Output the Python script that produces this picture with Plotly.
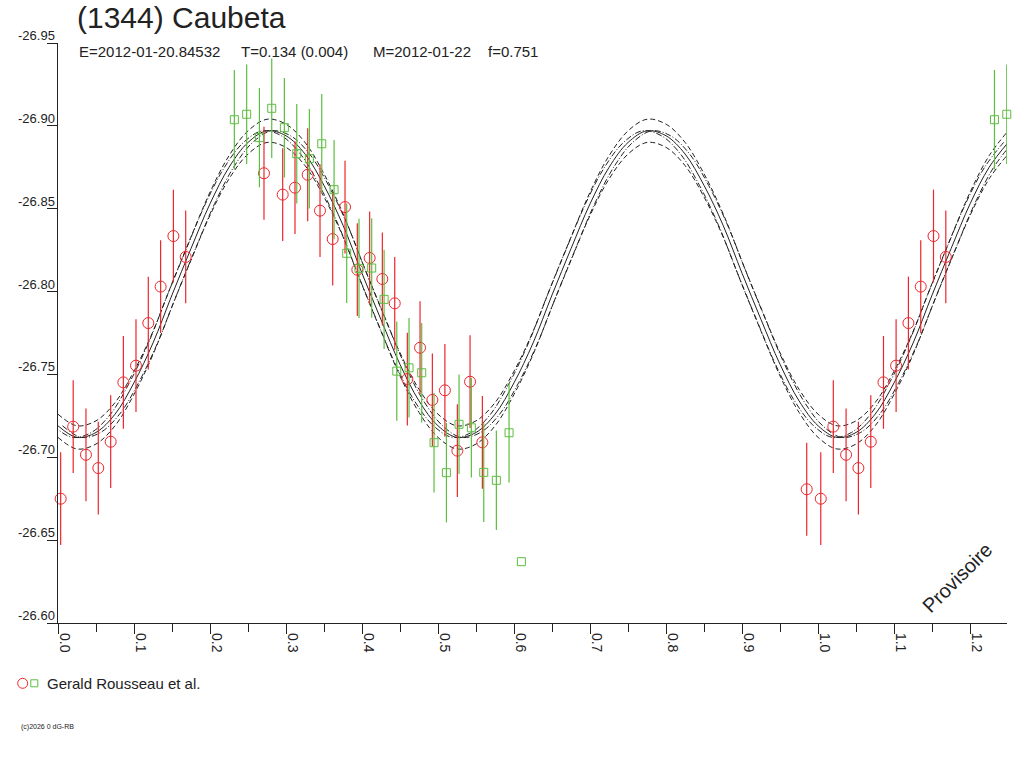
import plotly.graph_objects as go

# ---------------- data ----------------
TITLE = "(1344) Caubeta"
SUBTITLE_PARTS = ["E=2012-01-20.84532", "T=0.134 (0.004)", "M=2012-01-22", "f=0.751"]
LEGEND_LABEL = "Gerald Rousseau et al."
WATERMARK = "Provisoire"
COPYRIGHT = "(c)2026 0 dG-RB"

X_TICKS = [0.0, 0.1, 0.2, 0.3, 0.4, 0.5, 0.6, 0.7, 0.8, 0.9, 1.0, 1.1, 1.2]
X_TICK_LABELS = ["0.0", "0.1", "0.2", "0.3", "0.4", "0.5", "0.6", "0.7", "0.8", "0.9", "1.0", "1.1", "1.2"]
Y_TICKS = [-26.95, -26.90, -26.85, -26.80, -26.75, -26.70, -26.65, -26.60]
Y_TICK_LABELS = ["-26.95", "-26.90", "-26.85", "-26.80", "-26.75", "-26.70", "-26.65", "-26.60"]

# Fit curve sampled every 0.025 in phase
FIT_PHASE = [0.000, 0.025, 0.050, 0.075, 0.100, 0.125, 0.150, 0.175, 0.200, 0.225,
             0.250, 0.275, 0.300, 0.325, 0.350, 0.375, 0.400, 0.425, 0.450, 0.475,
             0.500, 0.525, 0.550, 0.575, 0.600, 0.625, 0.650, 0.675, 0.700, 0.725,
             0.750, 0.775, 0.800, 0.825, 0.850, 0.875, 0.900, 0.925, 0.950, 0.975,
             1.000, 1.025, 1.050, 1.075, 1.100, 1.125, 1.150, 1.175, 1.200, 1.225,
             1.250]
FIT_MAG = [-26.719, -26.712, -26.715, -26.726, -26.745, -26.769, -26.798, -26.826, -26.853, -26.875,
           -26.890, -26.897, -26.894, -26.883, -26.864, -26.840, -26.811, -26.783, -26.756, -26.734,
           -26.719, -26.712, -26.715, -26.726, -26.745, -26.769, -26.798, -26.826, -26.853, -26.875,
           -26.890, -26.897, -26.894, -26.883, -26.864, -26.840, -26.811, -26.783, -26.756, -26.734,
           -26.719, -26.712, -26.715, -26.726, -26.745, -26.769, -26.798, -26.826, -26.853, -26.875,
           -26.890]
FIT_MAG_SIGMA = 0.007     # vertical uncertainty of the fit
FIT_PHASE_SIGMA = 0.006   # phase uncertainty of the fit

RED_PHASE = [0.0035, 0.020, 0.0368, 0.053, 0.0693, 0.086, 0.1026, 0.1188, 0.135, 0.1518,
             0.168, 0.271, 0.2956, 0.3118, 0.3285, 0.3447, 0.3614, 0.3776, 0.3938, 0.410,
             0.4267, 0.443, 0.4596, 0.4763, 0.4925, 0.509, 0.5254, 0.5421, 0.5583, 0.985]
RED_MAG = [-26.675, -26.7185, -26.7015, -26.6935, -26.7094, -26.7452, -26.7553, -26.781, -26.803, -26.8335,
           -26.8209, -26.8714, -26.8585, -26.8627, -26.8705, -26.8488, -26.8317, -26.851, -26.8132, -26.8203,
           -26.8076, -26.7929, -26.7472, -26.7661, -26.7346, -26.7404, -26.704, -26.7456, -26.709, -26.6807]
RED_ERR = [0.028] * 30

GREEN_PHASE = [0.232, 0.2482, 0.265, 0.2812, 0.2978, 0.3141, 0.3307, 0.347, 0.3632, 0.3798,
               0.396, 0.4127, 0.429, 0.4457, 0.4618, 0.4785, 0.4947, 0.511, 0.5276, 0.5438,
               0.5601, 0.5767, 0.5934, 0.6096]
GREEN_MAG = [-26.9037, -26.907, -26.8929, -26.9106, -26.8989, -26.8832, -26.8802, -26.8892, -26.8615, -26.8231,
             -26.814, -26.8142, -26.7953, -26.752, -26.754, -26.751, -26.7088, -26.6907, -26.7199, -26.7178,
             -26.6909, -26.6861, -26.7148, -26.637]
GREEN_ERR = [0.030] * 23 + [0.0]

X_MAX = 1.2485
Y_RANGE = [-26.60, -26.95]

# ---------------- layout geometry ----------------
W, H = 1024, 768
ML, MR, MT, MB = 58, 17, 43, 145
PW, PH = W - ML - MR, H - MT - MB


def px_x(px):
    return (px - ML) / PW


def px_y(py):
    return (H - MB - py) / PH


RED = "rgb(236,38,44)"
GREEN = "rgb(92,190,62)"
INK = "#222222"
FONT = "Liberation Sans, Arial, sans-serif"


def repeat(phases, mags, errs):
    xs, ys, es = [], [], []
    for p, m, e in zip(phases, mags, errs):
        xs.append(p); ys.append(m); es.append(e)
    for p, m, e in zip(phases, mags, errs):
        if p + 1 <= X_MAX:
            xs.append(p + 1); ys.append(m); es.append(e)
    return xs, ys, es


fig = go.Figure()

# fit curves
line_common = dict(color=INK, width=1, shape="spline")
fig.add_trace(go.Scatter(x=[p - FIT_PHASE_SIGMA for p in FIT_PHASE], y=FIT_MAG, mode="lines",
                         line=dict(line_common, dash="6px,2px,1px,2px"), hoverinfo="skip"))
fig.add_trace(go.Scatter(x=[p + FIT_PHASE_SIGMA for p in FIT_PHASE], y=FIT_MAG, mode="lines",
                         line=dict(line_common, dash="6px,2px,1px,2px"), hoverinfo="skip"))
fig.add_trace(go.Scatter(x=FIT_PHASE, y=[m - FIT_MAG_SIGMA for m in FIT_MAG], mode="lines",
                         line=dict(line_common, dash="5px,3px"), hoverinfo="skip"))
fig.add_trace(go.Scatter(x=FIT_PHASE, y=[m + FIT_MAG_SIGMA for m in FIT_MAG], mode="lines",
                         line=dict(line_common, dash="5px,3px"), hoverinfo="skip"))
fig.add_trace(go.Scatter(x=FIT_PHASE, y=FIT_MAG, mode="lines",
                         line=dict(line_common), hoverinfo="skip"))

# observations
rx, ry, re_ = repeat(RED_PHASE, RED_MAG, RED_ERR)
fig.add_trace(go.Scatter(x=rx, y=ry, mode="markers", cliponaxis=False,
                         marker=dict(symbol="circle-open", size=11, color=RED, line=dict(width=1, color=RED)),
                         error_y=dict(type="data", array=re_, visible=True, color=RED, thickness=1.2, width=0)))
gx, gy, ge = repeat(GREEN_PHASE, GREEN_MAG, GREEN_ERR)
fig.add_trace(go.Scatter(x=gx, y=gy, mode="markers", cliponaxis=False,
                         marker=dict(symbol="square-open", size=8, color=GREEN, line=dict(width=1, color=GREEN)),
                         error_y=dict(type="data", array=ge, visible=True, color=GREEN, thickness=1.2, width=0)))

annotations = []
# title & subtitle
annotations.append(dict(text=TITLE, x=px_x(75), y=px_y(18), xref="paper", yref="paper",
                        xanchor="left", yanchor="middle", showarrow=False,
                        font=dict(family=FONT, size=30, color=INK)))
sub_x = [77, 238.6, 371.4, 486.4]
for t, sx in zip(SUBTITLE_PARTS, sub_x):
    annotations.append(dict(text=t, x=px_x(sx), y=px_y(51), xref="paper", yref="paper",
                            xanchor="left", yanchor="middle", showarrow=False,
                            font=dict(family=FONT, size=15, color=INK)))
# y tick labels (above the tick lines)
for v, lab in zip(Y_TICKS, Y_TICK_LABELS):
    annotations.append(dict(text=lab, x=px_x(56), y=v, xref="paper", yref="y",
                            xanchor="right", yanchor="bottom", showarrow=False, borderpad=0,
                            yshift=-1,
                            font=dict(family=FONT, size=13, color=INK)))
# x tick labels (rotated)
for v, lab in zip(X_TICKS, X_TICK_LABELS):
    annotations.append(dict(text=lab, x=v, y=px_y(632), xref="x", yref="paper",
                            xanchor="left", yanchor="top", textangle=90, showarrow=False,
                            borderpad=0, xshift=-2,
                            font=dict(family=FONT, size=14, color=INK)))
# legend text
annotations.append(dict(text=LEGEND_LABEL, x=px_x(45), y=px_y(683), xref="paper", yref="paper",
                        xanchor="left", yanchor="middle", showarrow=False,
                        font=dict(family=FONT, size=15, color=INK)))
# watermark
annotations.append(dict(text=WATERMARK, x=px_x(957), y=px_y(578), xref="paper", yref="paper",
                        xanchor="center", yanchor="middle", textangle=-45, showarrow=False,
                        font=dict(family=FONT, size=20, color=INK)))
# copyright
annotations.append(dict(text=COPYRIGHT, x=px_x(19), y=px_y(727), xref="paper", yref="paper",
                        xanchor="left", yanchor="middle", showarrow=False,
                        font=dict(family=FONT, size=7, color=INK)))

shapes = [
    dict(type="circle", xref="paper", yref="paper", xsizemode="pixel", ysizemode="pixel",
         xanchor=0, yanchor=0, x0=22.7 - ML - 5, x1=22.7 - ML + 5,
         y0=(H - MB) - 683.3 - 5, y1=(H - MB) - 683.3 + 5, line=dict(color=RED, width=1)),
    dict(type="rect", xref="paper", yref="paper", xsizemode="pixel", ysizemode="pixel",
         xanchor=0, yanchor=0, x0=34.3 - ML - 3.5, x1=34.3 - ML + 3.5,
         y0=(H - MB) - 683.3 - 3.5, y1=(H - MB) - 683.3 + 3.5, line=dict(color=GREEN, width=1)),
]

fig.update_layout(
    width=W, height=H,
    margin=dict(l=ML, r=MR, t=MT, b=MB, pad=0),
    paper_bgcolor="white", plot_bgcolor="white",
    showlegend=False,
    annotations=annotations,
    shapes=shapes,
    xaxis=dict(range=[0, X_MAX], showgrid=False, zeroline=False, showline=True,
               linecolor=INK, linewidth=1, ticks="outside", ticklen=10, tickcolor=INK,
               tickvals=X_TICKS, showticklabels=False,
               minor=dict(dtick=0.05, tick0=0, ticks="outside", ticklen=8, tickcolor=INK, showgrid=False)),
    yaxis=dict(range=Y_RANGE, showgrid=False, zeroline=False, showline=True,
               linecolor=INK, linewidth=1, ticks="outside", ticklen=10, tickcolor=INK,
               tickvals=Y_TICKS, showticklabels=False),
)

fig.write_html("out.html", config={"displayModeBar": False},
               post_script="document.body.style.margin='0';")
